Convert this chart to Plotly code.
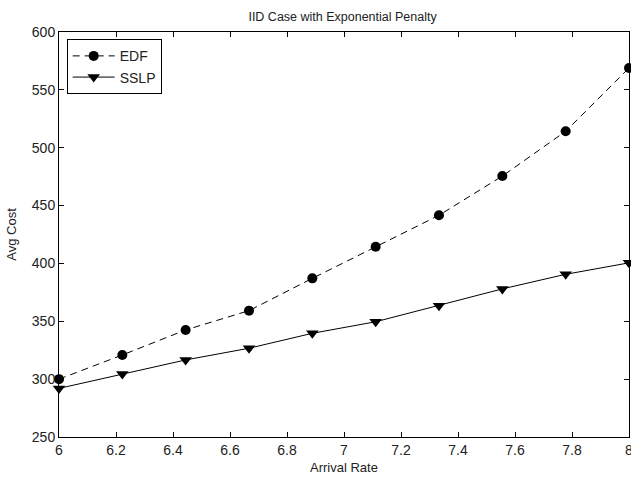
import plotly.graph_objects as go

arrival_rate = [6.0, 6.2222, 6.4444, 6.6667, 6.8889, 7.1111, 7.3333, 7.5556, 7.7778, 8.0]
edf = [300, 320.9, 342.5, 359.2, 387.1, 414.4, 441.6, 475.5, 514.2, 568.9]
sslp = [292, 304.5, 316.6, 326.7, 339.6, 349.6, 363.5, 378.0, 390.6, 400.5]
x_ticks = [6, 6.2, 6.4, 6.6, 6.8, 7, 7.2, 7.4, 7.6, 7.8, 8]
x_tick_text = ["6", "6.2", "6.4", "6.6", "6.8", "7", "7.2", "7.4", "7.6", "7.8", "8"]
y_ticks = [250, 300, 350, 400, 450, 500, 550, 600]

FONT = "Liberation Sans, Arial, Helvetica"
TXT = "#222"

fig = go.Figure()
fig.add_trace(go.Scatter(
    x=arrival_rate, y=edf, name="EDF", mode="lines+markers",
    line=dict(color="black", width=1, dash="7px,5px"),
    marker=dict(symbol="circle", size=10, color="black"),
    cliponaxis=False,
))
fig.add_trace(go.Scatter(
    x=arrival_rate, y=sslp, name="SSLP", mode="lines+markers",
    line=dict(color="black", width=1),
    marker=dict(symbol="triangle-down", size=11, color="black"),
    cliponaxis=False,
))

axis_common = dict(
    showline=True, linecolor="black", linewidth=1, mirror="allticks",
    ticks="inside", ticklen=5, tickcolor="black", showgrid=False, zeroline=False,
    tickfont=dict(family=FONT, size=14, color=TXT),
    ticklabeloverflow="allow", automargin=False,
)
fig.update_layout(
    width=631, height=478,
    margin=dict(l=59, r=2, t=32, b=41),
    paper_bgcolor="white", plot_bgcolor="white",
    font=dict(family=FONT, size=12, color=TXT),
    title=dict(text="IID Case with Exponential Penalty", x=0.5429, xanchor="center",
               y=0.966, yanchor="middle", font=dict(size=12.5)),
    xaxis=dict(range=[6, 8], tickvals=x_ticks, ticktext=x_tick_text,
               title=dict(text="Arrival Rate", standoff=6, font=dict(size=13)), **axis_common),
    yaxis=dict(range=[250, 600], tickvals=y_ticks,
               title=dict(text="Avg Cost", standoff=12, font=dict(size=13)), **axis_common),
    legend=dict(x=0.0135, y=0.982, xanchor="left", yanchor="top",
                bordercolor="black", borderwidth=1, bgcolor="white",
                font=dict(size=14), itemwidth=42, tracegroupgap=0),
    showlegend=True,
)
fig.write_html("out.html")
